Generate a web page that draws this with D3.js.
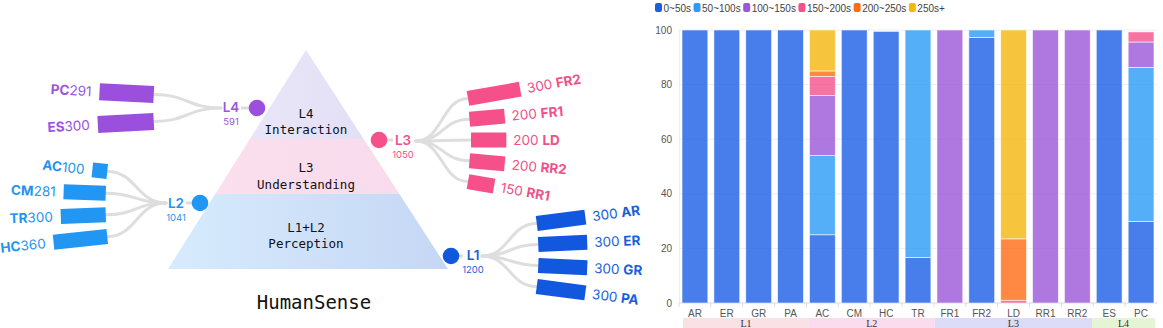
<!DOCTYPE html>
<html><head><meta charset="utf-8">
<script src="https://cdn.jsdelivr.net/npm/d3@7"></script>
<style>body{margin:0;background:#fff}svg{display:block}</style>
</head><body>
<svg id="c" width="1163" height="328"></svg>
<script>
// ---------- data: right stacked chart ----------
const categories = ["AR","ER","GR","PA","AC","CM","HC","TR","FR1","FR2","LD","RR1","RR2","ES","PC"];
const bins = ["0~50s","50~100s","100~150s","150~200s","200~250s","250s+"];
const s0_50    = [100,100,100,100,25,100,99.5,16.7,0,97.3,0,0,0,100,29.9];
const s50_100  = [0,0,0,0,29,0,0,83.3,0,2.7,0,0,0,0,56.4];
const s100_150 = [0,0,0,0,22,0,0,0,100,0,0,100,100,0,9.3];
const s150_200 = [0,0,0,0,7,0,0,0,0,0,1,0,0,0,3.7];
const s200_250 = [0,0,0,0,2,0,0,0,0,0,22.5,0,0,0,0];
const s250p    = [0,0,0,0,15,0,0,0,0,0,76.5,0,0,0,0];
const yTicks = [0,20,40,60,80,100];
const groupNames = ["L1","L2","L3","L4"];
const groupSizes = [4,4,5,2];

// ---------- data: left diagram ----------
const layerTitles = ["L4","L3","L1+L2"];
const layerNames = ["Interaction","Understanding","Perception"];
const l1Names = ["AR","ER","GR","PA"], l1Values = [300,300,300,300], l1Total = 1200;
const l2Names = ["AC","CM","TR","HC"], l2Values = [100,281,300,360], l2Total = 1041;
const l3Names = ["FR2","FR1","LD","RR2","RR1"], l3Values = [300,200,200,200,150], l3Total = 1050;
const l4Names = ["PC","ES"], l4Values = [291,300], l4Total = 591;
const diagramTitle = "HumanSense";

const svg = d3.select("#c");

// ================= LEFT: pyramid =================
const defs = svg.append("defs");
const g1 = defs.append("linearGradient").attr("id","gP").attr("x1","0").attr("x2","1");
g1.append("stop").attr("offset","0").attr("stop-color","#d7ebfd");
g1.append("stop").attr("offset","1").attr("stop-color","#c5d7f4");
const g2 = defs.append("linearGradient").attr("id","gU").attr("x1","0").attr("x2","1");
g2.append("stop").attr("offset","0").attr("stop-color","#fbdfee");
g2.append("stop").attr("offset","1").attr("stop-color","#f8dbec");
const g3 = defs.append("linearGradient").attr("id","gI").attr("x1","0").attr("x2","1");
g3.append("stop").attr("offset","0").attr("stop-color","#e9e6f9");
g3.append("stop").attr("offset","1").attr("stop-color","#e3e0f6");

const apex = [306,50], baseY = 269, baseL = 168, baseR = 448;
const cuts = [50,139,194,269];
const fills = ["url(#gI)","url(#gU)","url(#gP)"];
const pyrX = y => {const t=(y-apex[1])/(baseY-apex[1]); return [apex[0]-t*(apex[0]-baseL), apex[0]+t*(baseR-apex[0])];};
for (let i=0;i<3;i++){
  const a=pyrX(cuts[i]), b=pyrX(cuts[i+1]);
  svg.append("path").attr("d",`M${a[0]},${cuts[i]}L${a[1]},${cuts[i]}L${b[1]},${cuts[i+1]}L${b[0]},${cuts[i+1]}Z`).attr("fill",fills[i]);
}
const layerTextY = [[118,134],[172,189],[232,248]];
layerTitles.forEach((t,i)=>{
  svg.append("text").attr("x",306).attr("y",layerTextY[i][0]).attr("text-anchor","middle")
    .attr("font-family","DejaVu Sans Mono").attr("font-size",12.5).attr("fill","#111").text(t);
  svg.append("text").attr("x",306).attr("y",layerTextY[i][1]).attr("text-anchor","middle")
    .attr("font-family","DejaVu Sans Mono").attr("font-size",12.5).attr("fill","#111").text(layerNames[i]);
});
svg.append("text").attr("x",314).attr("y",309).attr("text-anchor","middle")
  .attr("font-family","DejaVu Sans Mono").attr("font-size",19).attr("fill","#111").text(diagramTitle);

// ================= LEFT: fans =================
const fans = [
  {name:"L4", names:l4Names, values:l4Values, total:l4Total, dir:-1, color:"#9a50dc", text:"#9d55d8",
   circle:[257,108], lab:[231,112,124.5], start:[221,108], innerX:153, cy:108, spacing:27, h:17, step:6, maxLen:56},
  {name:"L2", names:l2Names, values:l2Values, total:l2Total, dir:-1, color:"#2196f3", text:"#1f93f2",
   circle:[200,203], lab:[176,207.5,221], start:[166,203], innerX:105, cy:204, spacing:21.7, h:15, step:4, maxLen:54},
  {name:"L3", names:l3Names, values:l3Values, total:l3Total, dir:1, color:"#f5508a", text:"#f0508a",
   circle:[379,140], lab:[403,144.5,157.5], start:[416,141], innerX:471, cy:140, spacing:20.8, h:15, step:5, maxLen:53},
  {name:"L1", names:l1Names, values:l1Values, total:l1Total, dir:1, color:"#1158df", text:"#1a5fd9",
   circle:[451,256], lab:[473,259.5,272.5], start:[482,256], innerX:539, cy:255, spacing:21, h:15, step:5, maxLen:49}
];
const lf = "Inter, 'Open Sans', sans-serif";
fans.forEach(f=>{
  const g = svg.append("g");
  const n = f.names.length;
  const len = d3.scaleLinear().domain([0, d3.max(f.values)]).range([0, f.maxLen]);
  g.append("line").attr("x1",f.circle[0]).attr("y1",f.circle[1]).attr("x2",f.lab[0]-f.dir*10).attr("y2",f.circle[1])
    .attr("stroke","#dcdcdc").attr("stroke-width",3);
  f.names.forEach((nm,i)=>{
    const k = i-(n-1)/2;
    const y = f.cy + k*f.spacing;
    const x = f.innerX - f.dir*Math.abs(k)*1.5;
    const mx = (f.start[0]+x)/2;
    g.append("path").attr("d",`M${f.start[0]},${f.start[1]}C${mx},${f.start[1]} ${mx},${y} ${x},${y}`)
      .attr("fill","none").attr("stroke","#dedede").attr("stroke-width",3).attr("stroke-linecap","round");
    const rot = f.dir*k*f.step;
    const bg = g.append("g").attr("transform",`translate(${x},${y}) rotate(${rot})`);
    const L = len(f.values[i]);
    bg.append("rect").attr("x", f.dir>0?0:-L).attr("y",-f.h/2).attr("width",L).attr("height",f.h).attr("fill",f.color);
    const t = bg.append("text").attr("y",5).attr("font-family",lf).attr("font-size",13.5).attr("fill",f.text);
    if (f.dir>0){
      t.attr("x",L+7).attr("text-anchor","start");
      t.append("tspan").text(f.values[i]+" ");
      t.append("tspan").attr("font-weight","bold").text(nm);
    } else {
      t.attr("x",-L-8).attr("text-anchor","end");
      t.append("tspan").attr("font-weight","bold").text(nm);
      t.append("tspan").text(f.values[i]);
    }
  });
  g.append("circle").attr("cx",f.circle[0]).attr("cy",f.circle[1]).attr("r",8.3).attr("fill",f.color);
  g.append("text").attr("x",f.lab[0]).attr("y",f.lab[1]).attr("text-anchor","middle").attr("font-family",lf)
    .attr("font-size",13.5).attr("font-weight",600).attr("fill",f.text).text(f.name);
  g.append("text").attr("x",f.lab[0]).attr("y",f.lab[2]).attr("text-anchor","middle").attr("font-family",lf)
    .attr("font-size",9.5).attr("fill",f.text).text(f.total);
});

// ================= RIGHT: stacked bars =================
const cf = "'Liberation Sans', Arial, sans-serif";
const legendColors = ["#1a5ee6","#2b9bf6","#9b56d9","#f5508b","#ff6a13","#f5b70c"];
const seriesArr = [s0_50,s50_100,s100_150,s150_200,s200_250,s250p];
const rows = categories.map((c,i)=>{const o={cat:c}; bins.forEach((b,j)=>o[b]=seriesArr[j][i]); return o;});
const x = d3.scaleBand().domain(categories).range([679,1157]).paddingInner(0.19).paddingOuter(0.095);
const y = d3.scaleLinear().domain([0,100]).range([303,30]);
const color = d3.scaleOrdinal().domain(bins).range(legendColors);

svg.append("g").selectAll("line").data(yTicks).join("line")
  .attr("x1",679).attr("x2",1157).attr("y1",d=>y(d)).attr("y2",d=>y(d))
  .attr("stroke",(d)=>d===0?"#d8d8d8":"#eeeeee").attr("stroke-width",1);
svg.append("line").attr("x1",679.5).attr("x2",679.5).attr("y1",30).attr("y2",303).attr("stroke","#eeeeee");
svg.append("g").selectAll("text").data(yTicks).join("text")
  .attr("x",672).attr("y",d=>y(d)+3.5).attr("text-anchor","end").attr("font-family",cf).attr("font-size",10)
  .attr("fill","#555").text(d=>d);
svg.append("g").selectAll("line").data(categories).join("line")
  .attr("x1",d=>x(d)-x.step()*x.paddingInner()/2).attr("x2",d=>x(d)-x.step()*x.paddingInner()/2)
  .attr("y1",303).attr("y2",307).attr("stroke","#dddddd");

const stacked = d3.stack().keys(bins)(rows);
svg.append("g").selectAll("g").data(stacked).join("g")
  .attr("fill",d=>color(d.key)).attr("fill-opacity",0.8)
  .selectAll("rect").data(d=>d.filter(e=>e[1]-e[0]>0)).join("rect")
  .attr("x",d=>x(d.data.cat)).attr("width",x.bandwidth())
  .attr("y",d=>y(d[1])).attr("height",d=>y(d[0])-y(d[1]))
  .attr("stroke","#fff").attr("stroke-opacity",0.7).attr("stroke-width",0.8);

svg.append("g").selectAll("text").data(categories).join("text")
  .attr("x",d=>x(d)+x.bandwidth()/2).attr("y",317).attr("text-anchor","middle")
  .attr("font-family",cf).attr("font-size",10).attr("fill","#555").text(d=>d);

const groupColors = ["#f9e1e6","#fadcee","#dcdcf8","#e5f4d4"];
const gx = d3.scaleLinear().domain([0,categories.length]).range([683,1155]);
let acc = 0;
groupNames.forEach((gname,i)=>{
  const x0 = gx(acc), x1 = gx(acc+groupSizes[i]);
  svg.append("rect").attr("x",x0).attr("y",318).attr("width",x1-x0).attr("height",12).attr("fill",groupColors[i]);
  svg.append("text").attr("x",(x0+x1)/2).attr("y",327).attr("text-anchor","middle")
    .attr("font-family","'Liberation Serif', serif").attr("font-size",10).attr("fill","#333").text(gname);
  acc += groupSizes[i];
});

let lx = 655;
bins.forEach((b,i)=>{
  svg.append("rect").attr("x",lx).attr("y",3).attr("width",7).attr("height",9).attr("rx",2).attr("fill",legendColors[i]);
  const t = svg.append("text").attr("x",lx+8.5).attr("y",11.5).attr("font-family",cf).attr("font-size",10)
    .attr("fill","#444").text(b);
  lx += 8.5 + t.node().getComputedTextLength() + 2.5;
});
</script>
</body></html>
